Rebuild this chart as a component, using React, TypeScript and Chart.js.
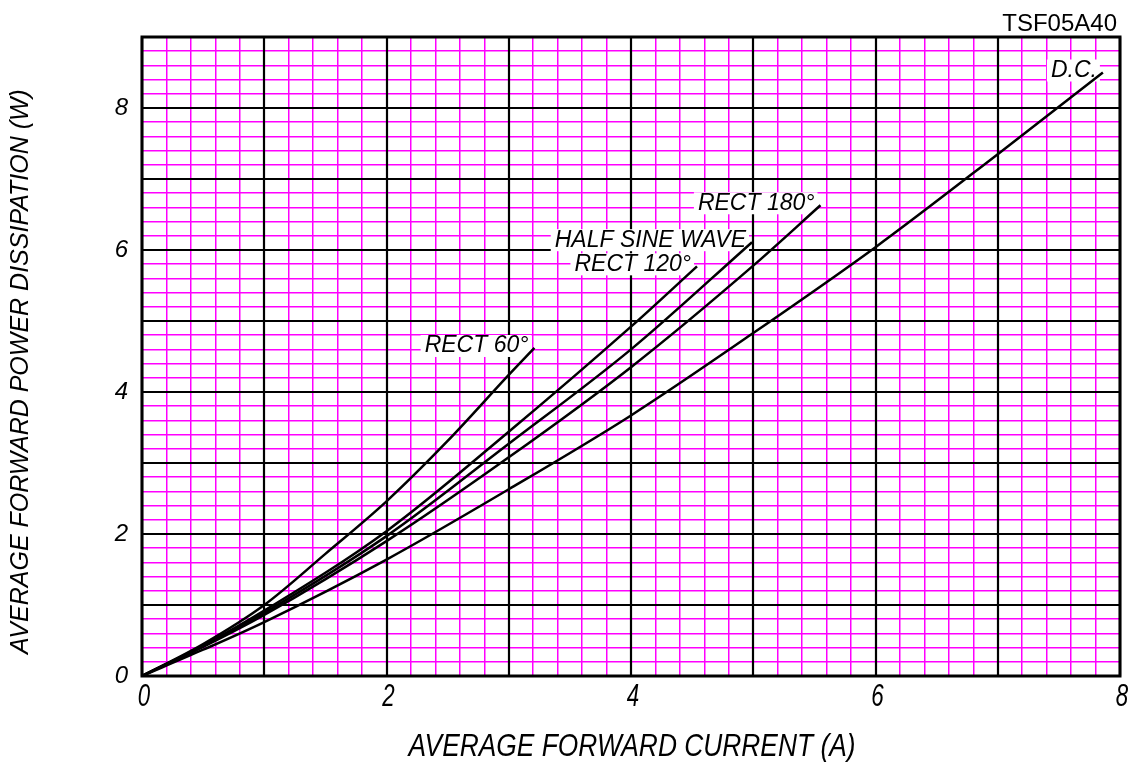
import React, { useEffect, useRef } from 'react';
import { Chart, registerables } from 'chart.js';

Chart.register(...registerables);

const chartTitle = 'TSF05A40';
const xAxisTitle = 'AVERAGE FORWARD CURRENT (A)';
const yAxisTitle = 'AVERAGE FORWARD POWER DISSIPATION (W)';
const xTickLabels = [0, 2, 4, 6, 8];
const yTickLabels = [0, 2, 4, 6, 8];
const seriesNames = ['RECT 60°', 'RECT 120°', 'HALF SINE WAVE', 'RECT 180°', 'D.C.'];

const rect60Current = [0, 0.5, 1, 1.5, 2, 2.5, 3, 3.21];
const rect60Power = [0, 0.45, 1.0, 1.72, 2.46, 3.31, 4.24, 4.62];
const rect120Current = [0, 0.5, 1, 2, 3, 4, 4.54];
const rect120Power = [0, 0.43, 0.92, 2.04, 3.44, 4.92, 5.77];
const halfSineCurrent = [0, 0.5, 1, 2, 3, 4, 4.99];
const halfSinePower = [0, 0.42, 0.89, 1.97, 3.27, 4.6, 6.11];
const rect180Current = [0, 0.5, 1, 2, 3, 4, 5, 5.55];
const rect180Power = [0, 0.41, 0.86, 1.9, 3.08, 4.35, 5.78, 6.63];
const dcCurrent = [0, 0.5, 1, 2, 3, 4, 5, 6, 7, 7.86];
const dcPower = [0, 0.37, 0.76, 1.64, 2.63, 3.67, 4.83, 6.04, 7.35, 8.5];

const FONT = '"Liberation Sans", Arial, sans-serif';

const isMajor = (v: number) => Math.abs(v - Math.round(v)) < 1e-6;
const toPoints = (xs: number[], ys: number[]) => xs.map((x, i) => ({ x, y: ys[i] }));

const gridPlugin = {
  id: 'majorGrid',
  beforeDatasetsDraw(chart: any) {
    const { ctx, chartArea: a, scales } = chart;
    const x = scales.x;
    const y = scales.y;
    ctx.save();
    ctx.strokeStyle = '#000';
    ctx.lineWidth = 2.2;
    ctx.beginPath();
    x.ticks.forEach((t: any) => {
      if (isMajor(t.value)) {
        const px = Math.round(x.getPixelForValue(t.value));
        ctx.moveTo(px, a.top);
        ctx.lineTo(px, a.bottom);
      }
    });
    y.ticks.forEach((t: any) => {
      if (isMajor(t.value)) {
        const py = Math.round(y.getPixelForValue(t.value));
        ctx.moveTo(a.left, py);
        ctx.lineTo(a.right, py);
      }
    });
    ctx.stroke();
    ctx.lineWidth = 3;
    ctx.strokeRect(a.left, a.top, a.right - a.left, a.bottom - a.top);

    // curve labels
    ctx.font = `italic 23px ${FONT}`;
    ctx.textAlign = 'right';
    ctx.textBaseline = 'middle';
    chart.data.datasets.forEach((ds: any, i: number) => {
      const meta = chart.getDatasetMeta(i);
      const last = meta.data[meta.data.length - 1];
      const tx = last.x - 6;
      const ty = last.y - 2;
      const w = ctx.measureText(ds.label).width;
      ctx.fillStyle = '#fff';
      ctx.fillRect(tx - w - 4, ty - 11, w + 7, 22);
      ctx.fillStyle = '#000';
      ctx.fillText(ds.label, tx, ty);
    });
    ctx.restore();
  },
  afterDraw(chart: any) {
    const { ctx, chartArea: a, scales } = chart;
    const x = scales.x;
    ctx.save();
    ctx.fillStyle = '#000';

    // chart id, top right
    ctx.font = `24px ${FONT}`;
    ctx.textAlign = 'right';
    ctx.textBaseline = 'alphabetic';
    ctx.fillText(chartTitle, 1117, 31);

    // x tick labels (condensed italic)
    ctx.font = `italic 31px ${FONT}`;
    ctx.textAlign = 'center';
    ctx.textBaseline = 'middle';
    xTickLabels.forEach((v) => {
      ctx.save();
      ctx.translate(x.getPixelForValue(v) + 2, a.bottom + 21);
      ctx.scale(0.72, 1);
      ctx.fillText(String(v), 0, 0);
      ctx.restore();
    });

    // x axis title (condensed italic)
    ctx.save();
    ctx.translate((a.left + a.right) / 2 + 1, a.bottom + 71);
    ctx.scale(0.85, 1);
    ctx.fillText(xAxisTitle, 0, 0);
    ctx.restore();

    // y axis title
    ctx.font = `italic 25px ${FONT}`;
    ctx.save();
    ctx.translate(21, (a.top + a.bottom) / 2 + 15);
    ctx.rotate(-Math.PI / 2);
    ctx.fillText(yAxisTitle, 0, 0);
    ctx.restore();

    ctx.restore();
  },
};

export default function App() {
  const canvasRef = useRef<HTMLCanvasElement | null>(null);

  useEffect(() => {
    document.body.style.margin = '0';
    const canvas = canvasRef.current;
    if (!canvas) return;
    Chart.defaults.font.family = FONT;
    Chart.defaults.color = '#000';

    const seriesX = [rect60Current, rect120Current, halfSineCurrent, rect180Current, dcCurrent];
    const seriesY = [rect60Power, rect120Power, halfSinePower, rect180Power, dcPower];

    const chart = new Chart(canvas, {
      type: 'line',
      data: {
        datasets: seriesNames.map((name, i) => ({
          label: name,
          data: toPoints(seriesX[i], seriesY[i]),
          borderColor: '#000',
          borderWidth: 2.5,
          pointRadius: 0,
          fill: false,
          cubicInterpolationMode: 'monotone' as const,
        })),
      },
      options: {
        responsive: false,
        animation: false,
        layout: { padding: { left: 0, right: 23, top: 37, bottom: 0 } },
        plugins: {
          legend: { display: false },
          tooltip: { enabled: false },
        },
        scales: {
          x: {
            type: 'linear',
            min: 0,
            max: 8,
            border: { display: false },
            grid: {
              drawTicks: false,
              lineWidth: 1.5,
              color: (c: any) => (isMajor(c.tick.value) ? 'rgba(0,0,0,0)' : '#ff00ff'),
            },
            ticks: {
              display: false,
              stepSize: 0.2,
              autoSkip: false,
            },
            title: { display: false },
            afterFit: (s: any) => {
              s.height = 86;
            },
          },
          y: {
            type: 'linear',
            min: 0,
            max: 9,
            border: { display: false },
            grid: {
              drawTicks: false,
              lineWidth: 1.5,
              color: (c: any) => (isMajor(c.tick.value) ? 'rgba(0,0,0,0)' : '#ff00ff'),
            },
            ticks: {
              stepSize: 0.2,
              autoSkip: false,
              padding: 14,
              font: { size: 24, style: 'italic' },
              callback: (v: any) => {
                const r = Math.round(Number(v) * 1000) / 1000;
                return yTickLabels.includes(r) ? String(r) : '';
              },
            },
            title: { display: false },
            afterFit: (s: any) => {
              s.width = 142;
            },
          },
        },
      },
      plugins: [gridPlugin],
    });

    return () => chart.destroy();
  }, []);

  return (
    <div style={{ width: 1143, height: 762 }}>
      <canvas ref={canvasRef} width={1143} height={762} style={{ display: 'block' }} />
    </div>
  );
}
